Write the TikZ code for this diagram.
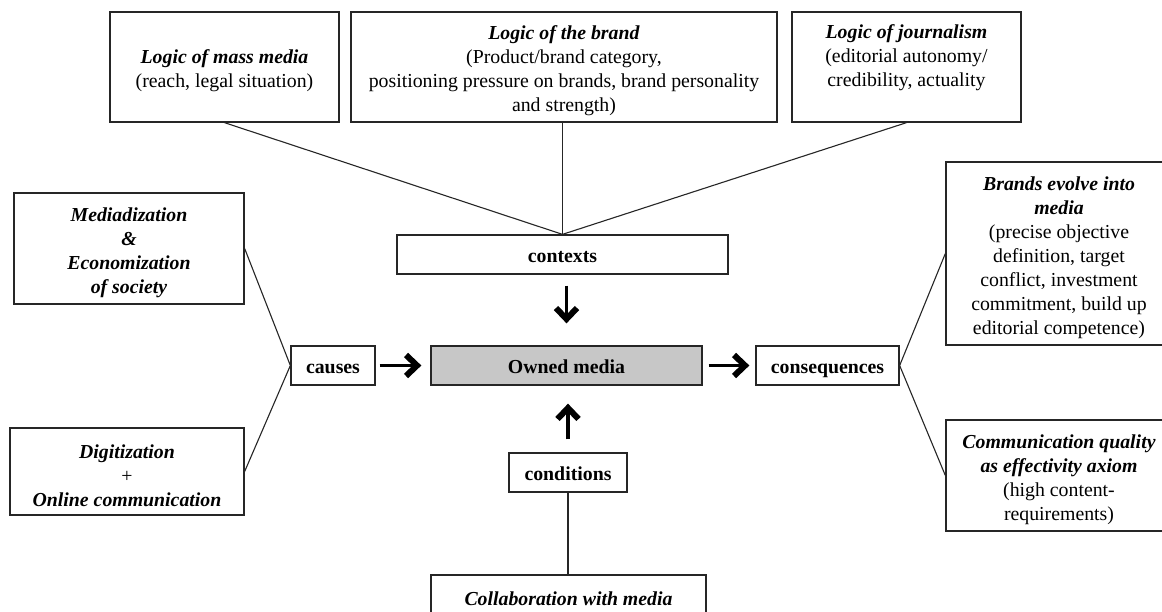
\documentclass[tikz,border=0pt]{standalone}
\usepackage{fontspec}
\setmainfont{Liberation Serif}
\usetikzlibrary{arrows.meta}
\newcommand{\dnstrut}{\rule{0pt}{22pt}}
\begin{document}
\begin{tikzpicture}[x=1pt,y=-1pt,
  box/.style={draw=black!85, line width=1.3pt, rectangle, inner sep=0pt, align=center,
    font=\fontsize{19.8}{24}\selectfont},
  single/.style={box, text height=18pt, text depth=2pt},
  shaded/.style={single, fill=black!22},
  link/.style={draw=black!85, line width=1.1pt},
  bigarrow/.style={line width=3.8pt, -{Straight Barb[length=11pt,width=21pt,line width=6pt]}}
]
\clip (0,0) rectangle (1162,611);
\fill[white] (0,0) rectangle (1162,611);
% top context boxes
\node[box, minimum width=229pt, minimum height=110pt] (mass) at (224.5,67)
  {\dnstrut\textbf{\textit{Logic of mass media}}\\(reach, legal situation)};
\node[box, minimum width=426pt, minimum height=110pt] (brand) at (564,67)
  {\dnstrut\textbf{\textit{Logic of the brand}}\\(Product/brand category,\\positioning pressure on brands, brand personality\\and strength)};
\node[box, minimum width=229pt, minimum height=110pt] (journ) at (906.5,67)
  {\dnstrut\textbf{\textit{Logic of journalism}}\\(editorial autonomy/\\credibility, actuality\\\strut};
% central row
\node[single, minimum width=331pt, minimum height=39pt] (contexts) at (562.5,254.5) {\textbf{contexts}};
\node[shaded, minimum width=271pt, minimum height=39pt] (owned) at (566.5,365.5) {\textbf{Owned media}};
\node[single, minimum width=84pt, minimum height=39pt] (causes) at (333,365.5) {\textbf{causes}};
\node[single, minimum width=143pt, minimum height=39pt] (cons) at (827.5,365.5) {\textbf{consequences}};
\node[single, minimum width=118pt, minimum height=39pt] (conditions) at (568,472.5) {\textbf{conditions}};
\node[single, minimum width=275pt, minimum height=45pt] (collab) at (568.5,597.5) {\textbf{\textit{Collaboration with media}}};
% left causes
\node[box, minimum width=230pt, minimum height=111pt] (mediad) at (129,248.5)
  {\dnstrut\textbf{\textit{Mediadization}}\\\textbf{\textit{\&}}\\\textbf{\textit{Economization}}\\\textbf{\textit{of society}}};
\node[box, minimum width=234pt, minimum height=87pt] (digit) at (127,471.5)
  {\dnstrut\textbf{\textit{Digitization}}\\+\\\textbf{\textit{Online communication}}};
% right consequences
\node[box, minimum width=226pt, minimum height=183pt] (brands) at (1059,253.5)
  {\dnstrut\textbf{\textit{Brands evolve into}}\\\textbf{\textit{media}}\\(precise objective\\definition, target\\conflict, investment\\commitment, build up\\editorial competence)};
\node[box, minimum width=226pt, minimum height=111pt] (comm) at (1059,475.5)
  {\dnstrut\textbf{\textit{Communication quality}}\\\textbf{\textit{as effectivity axiom}}\\(high content-\\requirements)};
% connecting lines
\draw[link] (mass.south) -- (contexts.north);
\draw[link] (brand.south -| contexts.north) -- (contexts.north);
\draw[link] (journ.south) -- (contexts.north);
\draw[link] (mediad.east) -- (causes.west);
\draw[link] (digit.east) -- (causes.west);
\draw[link] (cons.east) -- (brands.west);
\draw[link] (cons.east) -- (comm.west);
\draw[link] (conditions.south) -- (collab.north -| conditions.south);
% arrows
\draw[bigarrow, shorten <=11pt, shorten >=22pt] (owned.north |- contexts.south) -- (owned.north);
\draw[bigarrow, shorten <=13pt, shorten >=18pt] (conditions.north) -- (conditions.north |- owned.south);
\draw[bigarrow, shorten <=4pt, shorten >=9pt] (causes.east) -- (owned.west);
\draw[bigarrow, shorten <=6pt, shorten >=6pt] (owned.east) -- (cons.west);
\end{tikzpicture}
\end{document}
